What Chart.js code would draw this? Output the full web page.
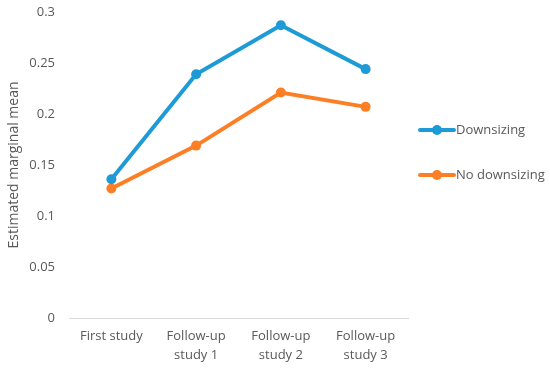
<!DOCTYPE html>
<html>
<head>
<meta charset="utf-8">
<script src="https://cdn.jsdelivr.net/npm/chart.js@4"></script>
<style>
  html, body { margin: 0; padding: 0; background: #fff; }
  #wrap { width: 550px; height: 369px; }
</style>
</head>
<body>
<div id="wrap"><canvas id="chart" width="550" height="369"></canvas></div>
<script>
// categories and series
var categories = ['First study', ['Follow-up', 'study 1'], ['Follow-up', 'study 2'], ['Follow-up', 'study 3']];
var downsizing = [0.136, 0.239, 0.287, 0.244];
var noDownsizing = [0.127, 0.169, 0.221, 0.207];
var yTicks = [0, 0.05, 0.1, 0.15, 0.2, 0.25, 0.3];

var blue = '#1e9bd7';
var orange = '#fc7f26';
var textColor = '#595959';
var fontFamily = '"Open Sans", "Liberation Sans", sans-serif';

// legend drawn by hand so it can sit where the original puts it
var sideLegend = {
  id: 'sideLegend',
  afterDraw: function (chart) {
    var ctx = chart.ctx;
    var items = chart.data.datasets;
    var x0 = 420, y0 = 130, gap = 45;
    ctx.save();
    ctx.font = '13px ' + fontFamily;
    ctx.textBaseline = 'middle';
    items.forEach(function (ds, i) {
      var y = y0 + i * gap;
      ctx.strokeStyle = ds.borderColor;
      ctx.lineWidth = 4;
      ctx.lineCap = 'round';
      ctx.beginPath();
      ctx.moveTo(x0, y);
      ctx.lineTo(x0 + 34, y);
      ctx.stroke();
      ctx.fillStyle = ds.borderColor;
      ctx.beginPath();
      ctx.arc(x0 + 17, y, 5, 0, Math.PI * 2);
      ctx.fill();
      ctx.fillStyle = textColor;
      ctx.fillText(ds.label, x0 + 36, y);
    });
    ctx.restore();
  }
};

var ctx = document.getElementById('chart').getContext('2d');
var chart = new Chart(ctx, {
  type: 'line',
  data: {
    labels: categories,
    datasets: [{
      label: 'Downsizing',
      data: downsizing,
      borderColor: blue,
      backgroundColor: blue,
      borderWidth: 4,
      pointRadius: 5,
      pointBorderWidth: 0,
      tension: 0
    }, {
      label: 'No downsizing',
      data: noDownsizing,
      borderColor: orange,
      backgroundColor: orange,
      borderWidth: 4,
      pointRadius: 5,
      pointBorderWidth: 0,
      tension: 0
    }]
  },
  options: {
    responsive: false,
    animation: false,
    layout: { padding: { left: 0, right: 142, top: 12, bottom: 0 } },
    plugins: {
      legend: { display: false },
      tooltip: { enabled: false }
    },
    scales: {
      x: {
        offset: true,
        grid: { display: false, drawTicks: false },
        border: { color: '#d9d9d9', width: 1 },
        ticks: {
          color: textColor,
          font: { family: fontFamily, size: 13, lineHeight: 1.45 },
          padding: 9,
          maxRotation: 0
        },
        afterFit: function (s) {
          s.height = 51;
          s.paddingLeft = 0;
          s.paddingRight = 0;
        }
      },
      y: {
        min: 0,
        max: 0.3,
        afterBuildTicks: function (s) {
          s.ticks = yTicks.map(function (v) { return { value: v }; });
        },
        grid: { display: false, drawTicks: false },
        border: { display: false },
        ticks: {
          color: textColor,
          font: { family: fontFamily, size: 13 },
          padding: 14,
          callback: function (v) { return String(v); }
        },
        title: {
          display: true,
          text: 'Estimated marginal mean',
          color: textColor,
          font: { family: fontFamily, size: 14 },
          padding: { top: 6, bottom: 0 }
        },
        afterFit: function (s) {
          s.width = 69;
          s.paddingTop = 0;
          s.paddingBottom = 0;
        }
      }
    }
  },
  plugins: [sideLegend]
});
</script>
</body>
</html>
